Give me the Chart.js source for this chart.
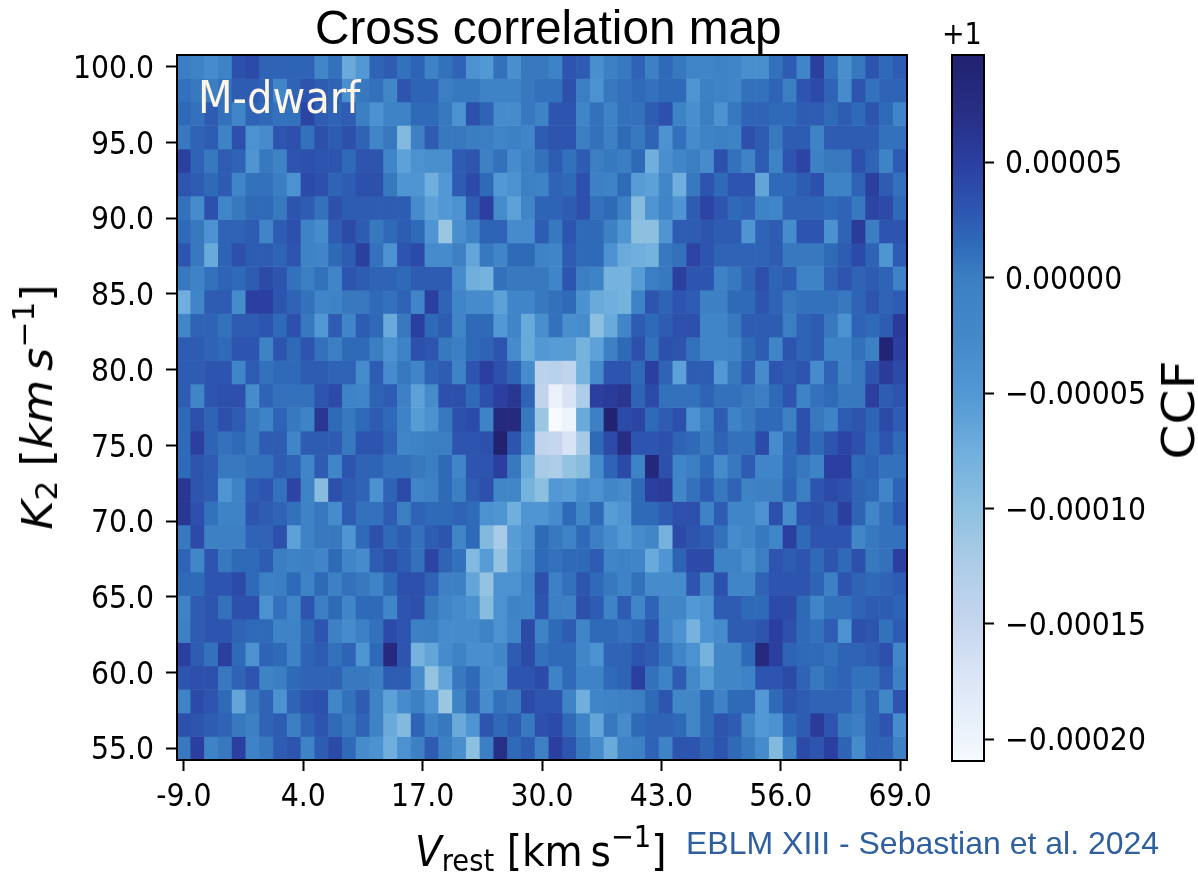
<!DOCTYPE html>
<html>
<head>
<meta charset="utf-8">
<title>Cross correlation map</title>
<script src="https://cdn.jsdelivr.net/npm/chart.js@4"></script>
<style>
  html, body { margin: 0; padding: 0; background: #fff; }
  #page { position: relative; width: 1198px; height: 876px; overflow: hidden; }
  canvas { position: absolute; top: 0; }
  #map { left: 0; }
  #bar { left: 900px; }
  .txt { position: absolute; white-space: nowrap; color: #000; line-height: 1; font-family: "DejaVu Sans Condensed", "DejaVu Sans", sans-serif; }
  .txt .lo { font-size: 70%; line-height: 0; vertical-align: -0.18em; }
  .txt .hi { font-size: 70%; line-height: 0; vertical-align: 0.62em; }
  #title { left: 315px; top: 0px; font: 47.7px "Liberation Sans", sans-serif; }
  #tag { left: 198px; top: 76px; font-size: 44.5px; color: #fdf5e6; }
  #xlabel { left: 415px; top: 830px; font-size: 43.5px; }
  #ylabel { left: 38px; top: 407px; font-size: 42px; transform: translate(-50%, -50%) rotate(-90deg) scaleX(1.18); }
  #cbar { left: 1179px; top: 410px; font-size: 44px; transform: translate(-50%, -50%) rotate(-90deg) scaleX(1.27); }
  #offset { left: 942px; top: 19px; font-size: 30px; }
  #credit { left: 686px; top: 825px; font: 32px "Liberation Sans", sans-serif; color: #2f5f9f; }
</style>
</head>
<body>
<div id="page">
  <canvas id="map" width="1198" height="876"></canvas>
  <canvas id="bar" width="298" height="876"></canvas>
  <div class="txt" id="title">Cross correlation map</div>
  <div class="txt" id="tag">M-dwarf</div>
  <div class="txt" id="xlabel"><i>V</i><span class="lo">rest</span> [km&#8201;s<span class="hi">&minus;1</span>]</div>
  <div class="txt" id="ylabel"><i>K</i><span class="lo">2</span> [<i>km&#8201;s</i><span class="hi">&minus;1</span>]</div>
  <div class="txt" id="cbar">CCF</div>
  <div class="txt" id="offset">+1</div>
  <div class="txt" id="credit">EBLM XIII - Sebastian et al. 2024</div>
</div>
<script>
/* ---------- Axes ---------- */
const vRest = [-9,-7.5,-6,-4.5,-3,-1.5,0,1.5,3,4.5,6,7.5,9,10.5,12,13.5,15,16.5,18,19.5,21,22.5,24,25.5,27,28.5,30,31.5,33,34.5,36,37.5,39,40.5,42,43.5,45,46.5,48,49.5,51,52.5,54,55.5,57,58.5,60,61.5,63,64.5,66,67.5,69];
const k2 = [100,98.45,96.9,95.34,93.79,92.24,90.69,89.14,87.59,86.03,84.48,82.93,81.38,79.83,78.28,76.72,75.17,73.62,72.07,70.52,68.97,67.41,65.86,64.31,62.76,61.21,59.66,58.1,56.55,55];
const xTicks = [-9,4,17,30,43,56,69];
const yTicks = [55,60,65,70,75,80,85,90,95,100];
const barTicks = [-0.0002,-0.00015,-0.0001,-0.00005,0,0.00005];
const barMin = -0.0002095;
const barMax = 0.0000965;

/* ---------- CCF values, units of 1e-5, one list per K2 row, top row first ---------- */
const ccfUnit = 1e-5;
const ccfRows = [
  [0,-1,-3,-1,3.5,4,2,2,2,2,-2,1,-7,-5,2,2.5,1,2,-1,1,2,-4,-5,1,-3.5,.5,.5,-1,3,2.5,-3.5,-.5,.5,2,-.5,1.5,.5,-1.5,-1.5,-1,-1.5,-3.5,-3.5,1,2.5,-1.5,5,1,-3.5,.5,3,1.5,2.5],
  [1,.5,0,1,2.5,2.5,2,-2,2,3,2.5,2,-3.5,.5,1,-2,3,2,2,0,.5,.5,-1,-1,-1,.5,1,1,3.5,0,-4,.5,1,1.5,1,1.5,1.5,-4.5,-.5,-1,-1.5,1,1,2,0,3,4,2,-3,3,1,2,2],
  [1.5,1,2.5,1,-1.5,2,1.5,1,1,4.5,2.5,2,2.5,0,-4,-1,-1,1.5,1.5,.5,-4,3.5,2,-3,-3,.5,-1,3,3,-1.5,1,-1,1,1,2.5,3.5,-1,-3.5,0,-4,.5,2,2,1.5,1.5,2.5,2.5,1.5,2.5,1.5,3,1.5,-1.5],
  [.5,2,2.5,-1,3.5,-4,-3,3,3.5,1,3.5,2.5,3.5,2,-1.5,.5,-9,-.5,2.5,.5,.5,0,0,-1.5,-.5,-1.5,2.5,3,3,0,1,-.5,1.5,.5,2,-4,1,-3,-1,-.5,-1,3.5,2.5,.5,2.5,2.5,-1,2.5,2.5,2.5,2.5,1,1],
  [5,2,.5,2.5,2,-4.5,.5,-1,3,3.5,3,3,1.5,3,3,-1.5,-6,-4,-3.5,-3.5,2.5,3,-.5,1,-3,-.5,1,2.5,1,2.5,0,.5,0,1.5,-7.5,-3.5,-1.5,0,-3,3.5,1,-1,2.5,-1,3,4.5,-.5,.5,.5,3.5,2,-1,2.5],
  [3,2.5,1.5,2.5,-1.5,1,1,0,-4,4,3.5,2,2.5,3.5,3.5,.5,-4.5,-4.5,-7.5,-5,2.5,4,1.5,-5,-4,-.5,-1,2,1.5,3.5,-.5,-1,1.5,-5.5,-6,-2,-7.5,.5,3,1.5,3,3,-6.5,1.5,1.5,2.5,3.5,-1,-1,2,5,2.5,1],
  [1,-3,3.5,-1.5,.5,1.5,1.5,.5,3,2.5,1,3.5,2.5,2.5,2.5,2.5,2.5,-3,-6,-5,-4,2.5,5,-3,-6,-1.5,2,2,2.5,3.5,1,1.5,-.5,-9.5,-4.5,-1.5,-4.5,2.5,4.5,3,1.5,2,-1,-1.5,2,2,2,1.5,2,.5,4.5,4,1.5],
  [1.5,.5,-4,2,2,2.5,-1.5,2.5,3.5,-1,-3,2.5,4,2.5,.5,1.5,2.5,1.5,-4.5,-11,-3.5,-1,2,2,-3,-3,2.5,.5,3,1.5,1.5,-.5,-4.5,-10,-10,-4.5,2.5,2.5,3,2.5,2.5,-4.5,2,2.5,-3,3,3,-4,2,5.5,0,3,3],
  [3,.5,-7,2,3.5,2.5,2.5,2,3,-1,-1.5,1.5,2.5,5,1,-4,3,4,-3,-3,-.5,-6.5,.5,-1.5,1.5,1.5,-1,-1.5,2.5,1.5,1.5,-4,-7,-7.5,-8,.5,1,4.5,3,2,2,2,2,2.5,.5,.5,.5,1.5,2.5,4,2,-4.5,2.5],
  [.5,-1,1,2,1.5,2.5,4,3,1,0,1,-1.5,3,2.5,2,2,1.5,2.5,2.5,2.5,-3,-7.5,-8,1,.5,.5,.5,-1.5,3,0,-1,-8,-8,-5.5,0,.5,5,3,3,-1,.5,2,3.5,2,2.5,-1,-1,2,3,2,2.5,2,-1],
  [-7.5,-1.5,2.5,2.5,-3,5,5,3,2,1,-1.5,-1,.5,.5,1.5,1,2,-1.5,5,2,-1.5,-3,-3,-6,-1.5,-1.5,.5,1,1.5,-4,-7,-7.5,-8,-1,3,2,3,2.5,-.5,-.5,1.5,1.5,3,2,.5,1,1,1,.5,2,3,2,2.5],
  [-2,2,2,1,2.5,2.5,3,1.5,3.5,.5,-5,2.5,-1.5,2.5,1.5,-7,.5,5,1.5,2.5,-1.5,1.5,1.5,-5,-1.5,-7,-3.5,1,-3.5,-3,-10,-7,-1.5,2.5,1.5,2.5,3.5,3.5,-1.5,-1.5,.5,2.5,2.5,2.5,0,2,2.5,.5,-4,2,1.5,2.5,5.5],
  [2.5,2.5,2,1.5,3,3,-1,3,1.5,3,1,0,1.5,1.5,0,-4,-1,3.5,3,.5,0,1.5,2,3,-3,-7,-5,-5.5,-5.5,-8,-6,-.5,1.5,3.5,1,3.5,3,1,-1.5,-1.5,-1,1.5,2.5,-1.5,3,2,2.5,-1,-1,1,-.5,9,5],
  [2.5,2.5,3,3,-1.5,2.5,1,1.5,1.5,2.5,2.5,2,2,-3,2.5,-3,.5,-1.5,2,2.5,-1,3,5,3.5,2,-3,-14,-13.5,-14.5,-8,-3,3,3,1.5,5,2,-6,2.5,2.5,-5,.5,2.5,-3,3,2.5,3,-3,2,-1,.5,3,5.5,4],
  [2.5,-1.5,3,3.5,3.5,-3,2,1,1,1,3,4,-1,-1.5,2,2.5,-.5,-6,-3,3.5,3.5,1.5,3.5,5,6,2,-14.5,-19.5,-17,-12.5,5,5.5,6,2,4,1,1,1,2,1,1,.5,0,1.5,3,-1,1,1.5,.5,.5,5,2.5,3],
  [1.5,3.5,2,3.5,2.5,.5,-1,2,.5,-1,6,1.5,.5,1.5,2.5,1.5,-1,-5.5,-4,.5,3.5,4,-1,8,8,.5,-11,-21,-20,-7,-.5,9.5,4,4.5,1.5,2.5,3.5,-4,0,2.5,-1,.5,1.5,1.5,-.5,3.5,.5,-1,2.5,3,2,4,2.5],
  [1.5,5,2,1,1.5,.5,2.5,2.5,-1.5,2.5,2.5,2.5,.5,3,3,2,-1.5,-1,0,0,3,3,3.5,9.5,3,-1.5,-14.5,-15,-17,-12,1.5,4,7.5,3,3,3.5,2,1.5,.5,2,1,1,4,-3,1.5,3.5,1.5,3,4.5,3.5,1.5,3,1.5],
  [1.5,3,2.5,.5,.5,1,1,2.5,2,-1.5,2.5,-1.5,3,2,2,1,1,.5,0,1.5,-1.5,3,3,5,.5,-7,-12,-12.5,-10.5,-9.5,-3,2,4,-1,8.5,3.5,-1.5,0,1.5,-3,.5,2.5,-1.5,-1.5,1.5,.5,-1,5,5,1.5,2,1,1],
  [6,3,2.5,-4.5,-1,2.5,3,1,4.5,-1,-9.5,3.5,2.5,2,-4,2,4,-1.5,-.5,1.5,0,2.5,3.5,-2,-2,-8,-10,-5,-5.5,-3,-4,-2,-3,1.5,5,5.5,-2,1,2.5,.5,2,-1,-.5,-.5,2,0,3,4,3.5,2,1.5,-1.5,2],
  [6,3.5,1,-1,-1,3,2.5,2,1,-1,.5,-3,2.5,1,1,2.5,0,2,1.5,1.5,2,1.5,-4,-4.5,-7.5,-4.5,-4.5,-3,1.5,-2,1.5,-5.5,-4.5,1.5,1.5,2.5,3.5,3.5,-1,2.5,-1.5,-1.5,-4,3.5,-3,3,3.5,2.5,5,2,-2,1,2.5],
  [.5,4,-.5,-.5,-.5,2,2,3.5,-6,-1,.5,.5,-4.5,1.5,3.5,1.5,2.5,1,2.5,3,-1.5,1.5,-9,-12,-5.5,-4,1.5,.5,-1,1.5,0,-3,-5,-3,-2,-8,4,3,2.5,1,-3,-2,.5,-1.5,5,1.5,3,3,3,-2,.5,1,1],
  [2,-2,3,.5,1.5,1.5,2.5,0,-1,-.5,-1.5,1.5,-1.5,-3,2.5,3.5,2.5,1,4.5,2,1,-9,-5.5,-10.5,-5.5,-3,1.5,1,1.5,1.5,2.5,-1.5,-1,-1.5,-7,-4.5,2,4,4,-1,-1,-3.5,0,3,2.5,3,1.5,3,1.5,3.5,.5,1,5],
  [1.5,1.5,3,3,4,1.5,-.5,0,1.5,-1,1.5,-.5,1,.5,-1,1.5,3.5,3.5,2,-.5,-.5,-6.5,-10.5,-4,-4,-1.5,3.5,-.5,1,3,1.5,.5,-1,1,-3,-3,-3,3,-1,3.5,-1.5,-1.5,2,3,3,3,2,-.5,3,2,1.5,2,2.5],
  [-1,2.5,3,1,3.5,3.5,-4,1,-1.5,3,0,1.5,-1.5,1.5,1.5,-1.5,3,3.5,.5,-1.5,-3,-4,-9.5,-4,-1,-1.5,3,0,-.5,3.5,2.5,-1,2.5,-1.5,2,-2,-2,-5,-4,2.5,2.5,1.5,1.5,4,4,1.5,-1.5,1,1,2,2.5,2.5,2],
  [-.5,2.5,3,3,2,1.5,1.5,-1,-1,1.5,3,-.5,-3,-.5,1,4,3,-.5,0,-3,-3,-3,-1,-4,-1.5,4,-1,1.5,2.5,-1.5,1.5,1.5,1,1.5,3,-1.5,-4,-8,-4,-3,2.5,2.5,3,5,3.5,1.5,1,2.5,-4,3.5,3,1,2.5],
  [5,2.5,1,5,1.5,-4,2,1.5,-1,2,2.5,1,2,-4.5,1.5,8,3,-8,-6.5,-3,-1,-3.5,-3.5,-2,2.5,4,1,1.5,1.5,-2,-4,2,2,3,2.5,1,-1.5,-4,-8,-2,-2,1.5,8,5,2,1.5,1.5,1,2,2,2.5,3.5,-2],
  [3,3.5,3.5,.5,2,3,-1,0,1.5,2,2,2,.5,.5,0,2.5,2.5,-3,-10.5,-6.5,.5,1.5,-3,-3.5,3,3,4,-1,1.5,-1,-1,1.5,2,5,1,-1,2.5,-2.5,-5.5,-2,-2,-1,3,3,4,2,.5,1.5,2,1,1,2.5,-.5],
  [-1,4,3,1.5,-6.5,.5,2,-4,2,3,3.5,-2,1,2.5,-1,-6,-3,-.5,-4.5,-11,-1,2,-3,1,.5,4,3,3,-1,-7.5,-1.5,-1,-.5,0,1.5,3,-2,-2,1.5,-1,1.5,1.5,-5,1.5,3,2.5,2,2,2,.5,2,-2,3],
  [3.5,3,2.5,2,.5,-.5,2,2.5,0,2,3,1.5,.5,2,-1,-7,-9,2,-1,.5,-7,-4.5,3,1.5,2.5,.5,3.5,4,1.5,-1,-6.5,.5,-3,1.5,2,2,1.5,-2,1.5,3,2.5,-2,-5,-4,1.5,2.5,5.5,3,.5,0,2,3,-3],
  [.5,5,-1,.5,5,-1,.5,2.5,3,-1,2.5,4,1.5,-3,-4,-7.5,-4,-.5,2.5,-.5,-3.5,-10,0,7,1.5,2.5,-.5,5,3,.5,-3,-7,-1,-.5,2,-1,3,3,2,3,1.5,.5,-3,-9,-1,4,3,5,2,-3,2,2,-.5]
];

/* ---------- Colour map, value in units of 1e-5 ---------- */
const cmapValues = [-21,-20,-17,-15,-12.5,-10,-7.5,-5,-2.5,0,1.5,3,5,7,9.65];
const cmapColors = ['#f7fafe','#eef4fc','#d8e4f5','#c6d6ef','#aecde8','#8dc0e0','#70aedd','#5298d4','#4389ca','#3b7fc2','#2f6ab9','#2d55b0','#2b3fa0','#272f86','#212270'];

function hexRgb(h) {
  return [1, 3, 5].map(i => parseInt(h.slice(i, i + 2), 16));
}

function colorFor(v) {
  let i = 0;
  while (i < cmapValues.length - 2 && v > cmapValues[i + 1]) i++;
  const t = Math.min(1, Math.max(0, (v - cmapValues[i]) / (cmapValues[i + 1] - cmapValues[i])));
  const a = hexRgb(cmapColors[i]);
  const b = hexRgb(cmapColors[i + 1]);
  return 'rgb(' + a.map((c, n) => Math.round(c + (b[n] - c) * t)).join(',') + ')';
}

/* ---------- Shared bits ---------- */
const tickFont = { family: '"DejaVu Sans Condensed", "DejaVu Sans", sans-serif', size: 31.5 };
const axisGrid = { offset: false, drawOnChartArea: false, drawTicks: true, tickLength: 11, tickWidth: 2, tickColor: '#000' };
const axisBorder = { display: true, color: '#000', width: 2 };

const framePlugin = {
  id: 'frame',
  afterDatasetsDraw(chart) {
    const a = chart.chartArea;
    chart.ctx.save();
    chart.ctx.strokeStyle = '#000';
    chart.ctx.lineWidth = 2;
    chart.ctx.strokeRect(a.left, a.top, a.right - a.left, a.bottom - a.top);
    chart.ctx.restore();
  },
};

/* ---------- Cross correlation map ---------- */
const halfX = (vRest[1] - vRest[0]) / 2;
const halfY = (k2[0] - k2[1]) / 2;

new Chart(document.getElementById('map'), {
  type: 'bar',
  data: {
    datasets: ccfRows.map((row, r) => ({
      data: row.map((v, c) => ({ x: vRest[c], y: [k2[r] - halfY, k2[r] + halfY] })),
      backgroundColor: row.map(v => colorFor(v)),
      borderWidth: 0,
      grouped: false,
      barPercentage: 1,
      categoryPercentage: 1,
    })),
  },
  plugins: [framePlugin],
  options: {
    responsive: false,
    animation: false,
    events: [],
    layout: { padding: { top: 55, right: 291, bottom: 0, left: 0 } },
    plugins: { legend: { display: false }, tooltip: { enabled: false } },
    scales: {
      x: {
        type: 'linear',
        offset: false,
        min: vRest[0] - halfX,
        max: vRest[vRest.length - 1] + halfX,
        afterBuildTicks: axis => { axis.ticks = xTicks.map(value => ({ value })); },
        afterFit: axis => { axis.height = 116; },
        grid: axisGrid,
        border: axisBorder,
        ticks: { color: '#000', font: tickFont, padding: 8, maxRotation: 0, autoSkip: false, callback: v => v.toFixed(1) },
      },
      y: {
        type: 'linear',
        min: k2[k2.length - 1] - halfY,
        max: k2[0] + halfY,
        afterBuildTicks: axis => { axis.ticks = yTicks.map(value => ({ value })); },
        afterFit: axis => { axis.width = 177; },
        grid: axisGrid,
        border: axisBorder,
        ticks: { color: '#000', font: tickFont, padding: 12, labelOffset: 3, autoSkip: false, callback: v => v.toFixed(1) },
      },
    },
  },
});

/* ---------- Colour bar ---------- */
new Chart(document.getElementById('bar'), {
  type: 'bar',
  data: {
    labels: ['CCF'],
    datasets: [{
      data: [[barMin, barMax]],
      borderWidth: 0,
      barPercentage: 1,
      categoryPercentage: 1,
      backgroundColor(ctx) {
        const chart = ctx.chart;
        if (!chart.chartArea) return cmapColors[0];
        const y = chart.scales.y;
        const g = chart.ctx.createLinearGradient(0, y.getPixelForValue(barMin), 0, y.getPixelForValue(barMax));
        cmapValues.forEach((v, i) => {
          g.addColorStop(Math.min(1, Math.max(0, (v * ccfUnit - barMin) / (barMax - barMin))), cmapColors[i]);
        });
        return g;
      },
    }],
  },
  plugins: [framePlugin],
  options: {
    responsive: false,
    animation: false,
    events: [],
    layout: { padding: { top: 55, right: 0, bottom: 115, left: 52 } },
    plugins: { legend: { display: false }, tooltip: { enabled: false } },
    scales: {
      x: { display: false },
      y: {
        position: 'right',
        min: barMin,
        max: barMax,
        afterBuildTicks: axis => { axis.ticks = barTicks.map(value => ({ value })); },
        afterFit: axis => { axis.width = 214; },
        grid: { drawOnChartArea: false, drawTicks: true, tickLength: 10, tickWidth: 2, tickColor: '#000' },
        border: { display: false },
        ticks: {
          color: '#000',
          font: tickFont,
          padding: 11,
          labelOffset: 3,
          autoSkip: false,
          callback: v => (v < 0 ? '\u2212' : '') + Math.abs(v).toFixed(5),
        },
      },
    },
  },
});
</script>
</body>
</html>
